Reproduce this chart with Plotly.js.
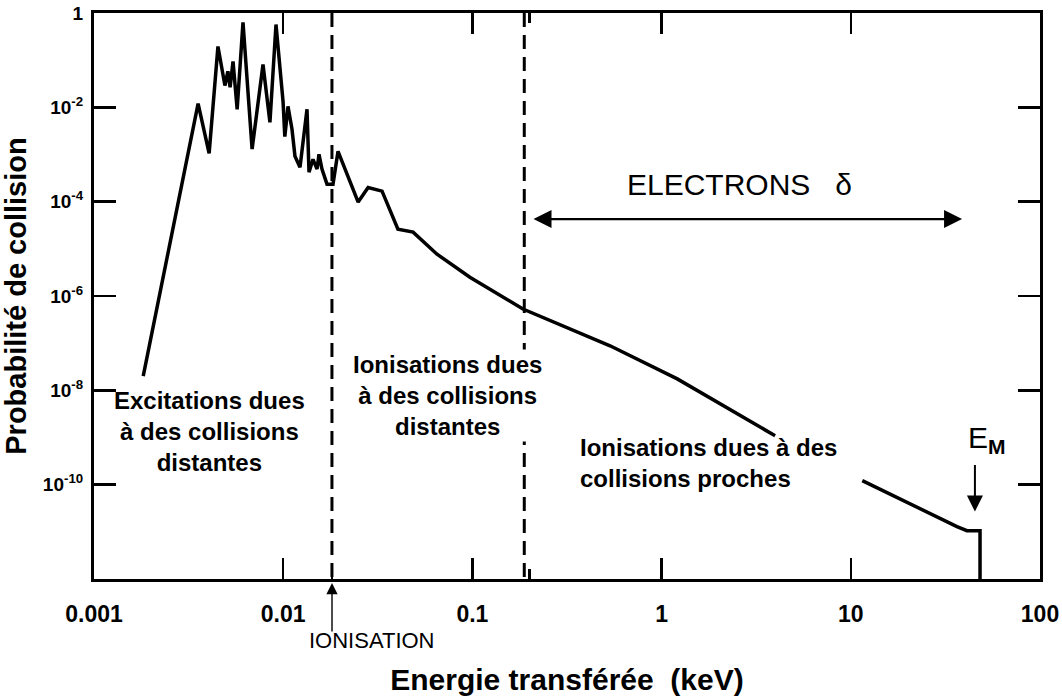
<!DOCTYPE html>
<html>
<head>
<meta charset="utf-8">
<script src="https://cdn.plot.ly/plotly-3.0.1.min.js"></script>
<style>
  html, body { margin: 0; padding: 0; background: #ffffff; }
  #chart { width: 1062px; height: 697px; }
</style>
</head>
<body>
<div id="chart"></div>
<script>
// ---- Data (energy transferred in keV, collision probability) ----
const energy = [
  0.00182, 0.00355, 0.00406, 0.00452, 0.00492, 0.00510, 0.00524, 0.00543, 0.00571,
  0.00613, 0.00685, 0.00782, 0.00851, 0.00916, 0.00998, 0.0102, 0.0106, 0.01113,
  0.01154, 0.01227, 0.01336, 0.01369, 0.01437, 0.01510, 0.01546, 0.01603, 0.01704,
  0.01833, 0.01949, 0.0249, 0.0281, 0.0333, 0.0404, 0.0486, 0.065, 0.097, 0.185,
  0.534, 1.21, 3.98,
  null,
  11.5, 21.3, 36.4, 41.1, 48.2, 48.2
];
const probability = [
  2.0e-8, 1.2e-2, 1.06e-3, 0.195, 0.029, 0.058, 0.0265, 0.094, 0.0091,
  0.63, 0.0013, 0.081, 0.0048, 0.57, 0.0134, 0.0024, 0.0105, 0.00342,
  0.000918, 0.000537, 0.0091, 0.00042, 0.00079, 0.00049, 0.00101, 0.00049, 0.000235,
  0.000235, 0.00117, 9.8e-5, 2.0e-4, 1.67e-4, 2.6e-5, 2.26e-5, 7.7e-6, 2.5e-6, 5.3e-7,
  8.8e-8, 1.75e-8, 1.09e-9,
  null,
  1.22e-10, 3.6e-11, 1.29e-11, 1.06e-11, 1.06e-11, 1e-12
];

// Region boundaries (keV)
const ionisationThreshold = 0.0181;
const closeCollisionThreshold = 0.188;
const boundaryProbRange = [1, 1e-12];

// Tick labels
const xTickVals = [0.001, 0.01, 0.1, 1, 10, 100];
const xTickText = ['0.001', '0.01', '0.1', '1', '10', '100'];
const yTickVals = [1, 1e-2, 1e-4, 1e-6, 1e-8, 1e-10];
const yTickText = ['1', '10<sup>-2</sup>', '10<sup>-4</sup>', '10<sup>-6</sup>', '10<sup>-8</sup>', '10<sup>-10</sup>'];
const xMinorTicks = [0.0181, 0.2];

// Texts
const xTitle = 'Energie transférée  (keV)';
const yTitle = 'Probabilité de collision';
const regionLabels = [
  'Excitations dues<br>à des collisions<br>distantes',
  'Ionisations dues<br>à des collisions<br>distantes',
  'Ionisations dues à des<br>collisions proches'
];
const electronsLabel = 'ELECTRONS   δ';
const emLabel = 'E<sub><b>M</b></sub>';
const ionisationLabel = 'IONISATION';

const FONT = 'Liberation Sans, Arial, Helvetica, sans-serif';

const traces = [
  {
    x: energy, y: probability, type: 'scatter', mode: 'lines',
    line: { color: '#000', width: 3.5 }, connectgaps: false, hoverinfo: 'skip'
  },
  {
    x: [ionisationThreshold, ionisationThreshold], y: boundaryProbRange,
    type: 'scatter', mode: 'lines',
    line: { color: '#000', width: 3, dash: '14px,8px' }, hoverinfo: 'skip'
  },
  {
    x: [closeCollisionThreshold, closeCollisionThreshold], y: boundaryProbRange,
    type: 'scatter', mode: 'lines',
    line: { color: '#000', width: 3, dash: '14px,8px' }, hoverinfo: 'skip'
  }
];

const boldFont = (s) => ({ family: FONT, size: s, color: '#000', weight: 'bold' });

const layout = {
  width: 1062, height: 697,
  margin: { l: 94, r: 22, t: 13, b: 118, pad: 0 },
  paper_bgcolor: '#fff', plot_bgcolor: '#fff',
  showlegend: false,
  font: { family: FONT, color: '#000' },
  xaxis: {
    type: 'log', range: [-3, 2], autorange: false,
    tickmode: 'array', tickvals: xTickVals, ticktext: xTickText,
    ticks: 'inside', ticklen: 21, tickwidth: 2.5, tickcolor: '#000',
    minor: { tickmode: 'array', tickvals: xMinorTicks, ticks: 'inside', ticklen: 10, tickwidth: 2.5, tickcolor: '#000', showgrid: false },
    showline: true, linecolor: '#000', linewidth: 3, mirror: 'ticks',
    showgrid: false, zeroline: false,
    tickfont: boldFont(23), ticklabelstandoff: 12,
    title: { text: xTitle, font: boldFont(30), standoff: 44 }
  },
  yaxis: {
    type: 'log', range: [-12, 0], autorange: false,
    tickmode: 'array', tickvals: yTickVals, ticktext: yTickText,
    ticks: 'inside', ticklen: 22, tickwidth: 2.5, tickcolor: '#000',
    showline: true, linecolor: '#000', linewidth: 3, mirror: 'ticks',
    showgrid: false, zeroline: false,
    tickfont: boldFont(19), ticklabelstandoff: 4,
    title: { text: yTitle, font: boldFont(29), standoff: 8 }
  },
  annotations: [
    { x: -2.387, y: -8.878, xref: 'x', yref: 'y', text: regionLabels[0], showarrow: false,
      font: boldFont(24), align: 'center', xanchor: 'center', yanchor: 'middle' },
    { x: -1.134, y: -8.116, xref: 'x', yref: 'y', text: regionLabels[1], showarrow: false,
      font: boldFont(24), align: 'center', xanchor: 'center', yanchor: 'middle', bgcolor: '#fff' },
    { x: -0.442, y: -9.534, xref: 'x', yref: 'y', text: regionLabels[2], showarrow: false,
      font: boldFont(24), align: 'left', xanchor: 'left', yanchor: 'middle' },
    { x: 0.414, y: -3.63, xref: 'x', yref: 'y', text: electronsLabel, showarrow: false,
      font: { family: FONT, size: 30, color: '#000' }, xanchor: 'center', yanchor: 'middle' },
    // double arrow for delta electrons
    { x: 1.588, y: -4.37, ax: -0.685, ay: -4.37, xref: 'x', yref: 'y', axref: 'x', ayref: 'y',
      text: '', showarrow: true, arrowhead: 2, startarrowhead: 2, arrowside: 'end+start',
      arrowsize: 1.5, startarrowsize: 1.5, arrowwidth: 2.4, arrowcolor: '#000' },
    // E_M label and arrow
    { x: 1.72, y: -9.048, xref: 'x', yref: 'y', text: emLabel, showarrow: false,
      font: { family: FONT, size: 30, color: '#000' }, xanchor: 'center', yanchor: 'middle' },
    { x: 1.656, y: -10.571, xref: 'x', yref: 'y', ax: 0, ay: -48, text: '', showarrow: true,
      arrowhead: 2, arrowsize: 1.6, arrowwidth: 2, arrowcolor: '#000' },
    // IONISATION label and arrow
    { x: -1.742, y: -0.007, xref: 'x', yref: 'paper', ax: 0, ay: 50, text: '', showarrow: true,
      arrowhead: 2, arrowsize: 1.6, arrowwidth: 1.4, arrowcolor: '#000' },
    { x: -1.531, y: -0.1095, xref: 'x', yref: 'paper', text: ionisationLabel, showarrow: false,
      font: { family: FONT, size: 22, color: '#000' }, xanchor: 'center', yanchor: 'middle' }
  ]
};

Plotly.newPlot('chart', traces, layout, { staticPlot: true, displayModeBar: false });
</script>
</body>
</html>
